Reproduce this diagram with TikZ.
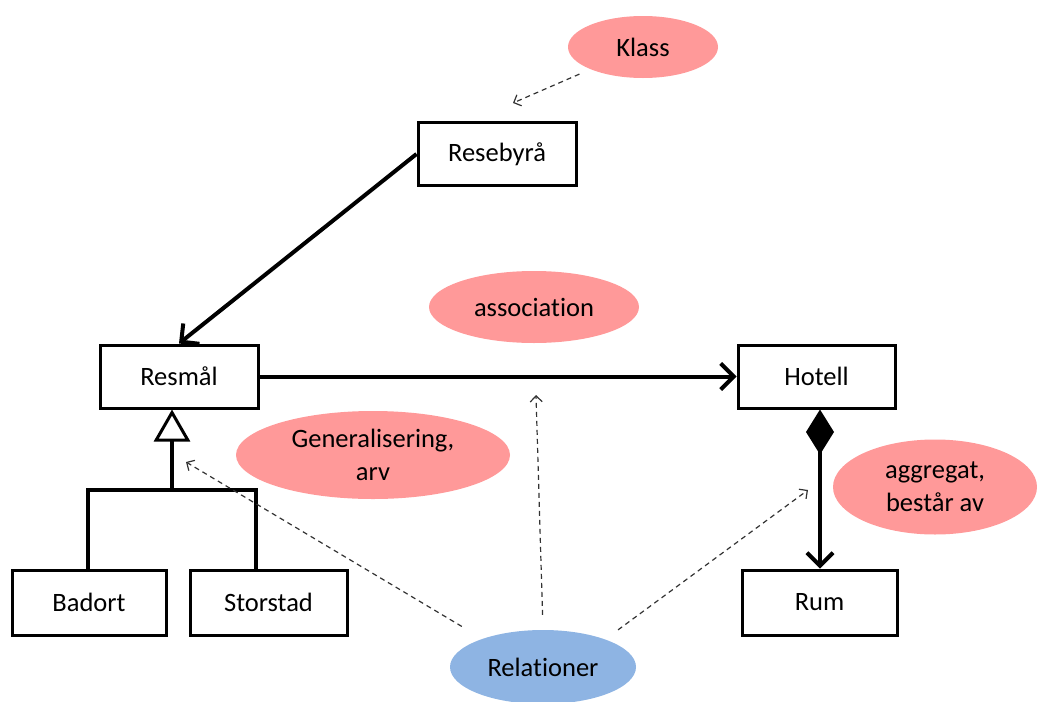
\documentclass[tikz,border=0pt]{standalone}
\usepackage{fontspec}
\setmainfont{Carlito}[Ligatures=NoCommon]
\usetikzlibrary{shapes.geometric,arrows.meta}
\definecolor{notepink}{RGB}{255,153,153}
\definecolor{noteblue}{RGB}{142,180,227}
\tikzset{
  classbox/.style={draw, line width=3pt, minimum height=63pt, inner sep=0pt,
    font=\fontsize{26.5}{30}\selectfont},
  note/.style={ellipse, fill=notepink, inner sep=0pt, align=center,
    font=\fontsize{26.5}{33}\selectfont},
  relation/.style={line width=4pt},
  barb/.style={-{Straight Barb[length=13pt,width=26pt,line width=4pt]}},
  hint/.style={draw=black!80, line width=1.2pt, dash pattern=on 5pt off 4pt,
    -{Straight Barb[length=6pt,width=12pt,line width=1.2pt]}}
}
\begin{document}
\begin{tikzpicture}[x=1pt,y=-1pt]
  \useasboundingbox (0,0) rectangle (1037,702);

  % Notes
  \node[note, minimum width=150pt, minimum height=62pt] (klass) at (643,47) {Klass};
  \node[note, minimum width=210pt, minimum height=72pt] (assoc) at (534,307) {association};
  \node[note, minimum width=274pt, minimum height=88pt] (gen) at (373,455) {Generalisering,\\arv};
  \node[note, minimum width=204pt, minimum height=95pt] (aggr) at (935,487) {aggregat,\\består av};
  \node[note, fill=noteblue, minimum width=186pt, minimum height=74pt] (rel) at (543,667) {Relationer};

  % Classes
  \node[classbox, minimum width=158pt] (resebyra) at (497,154) {Resebyrå};
  \node[classbox, minimum width=158pt] (resmal) at (179,376.5) {Resmål};
  \node[classbox, minimum width=157pt] (hotell) at (816.5,376.5) {Hotell};
  \node[classbox, minimum width=154pt, minimum height=65pt] (badort) at (89,602.5) {Badort};
  \node[classbox, minimum width=157pt, minimum height=65pt] (storstad) at (268.5,602.5) {Storstad};
  \node[classbox, minimum width=155pt, minimum height=65pt] (rum) at (819.5,602.5) {Rum};

  % Association
  \draw[relation, barb] (resebyra.west) -- (resmal.north);
  \draw[relation, barb] (resmal.east) -- (hotell.west);

  % Generalisation
  \coordinate (bl) at (88,490);
  \coordinate (bm) at (172,490);
  \coordinate (br) at (256,490);
  \draw[line width=3.5pt] (bl |- badort.north) -- (bl) -- (br) -- (br |- storstad.north);
  \draw[line width=3.5pt, -{Triangle[open,length=32pt,width=36pt,line width=3pt]}] (bm) -- (bm |- resmal.south);

  % Aggregation
  \coordinate (ag) at (820,490);
  \draw[relation, {Diamond[length=45pt,width=28pt]}-{Straight Barb[length=13pt,width=26pt,line width=4pt]}]
    (ag |- hotell.south) -- (ag |- rum.north);

  % Pointers
  \coordinate (tklass) at (513,103);
  \coordinate (tgen) at (186,462);
  \coordinate (tassoc) at (536,395);
  \coordinate (taggr) at (808,490);
  \draw[hint, shorten <=12pt] (klass.203) -- (tklass);
  \draw[hint, shorten <=24pt] (rel.155) -- (tgen);
  \draw[hint, shorten <=15pt] (rel.north) -- (tassoc);
  \draw[hint, shorten <=16pt] (rel.24) -- (taggr);
\end{tikzpicture}
\end{document}
